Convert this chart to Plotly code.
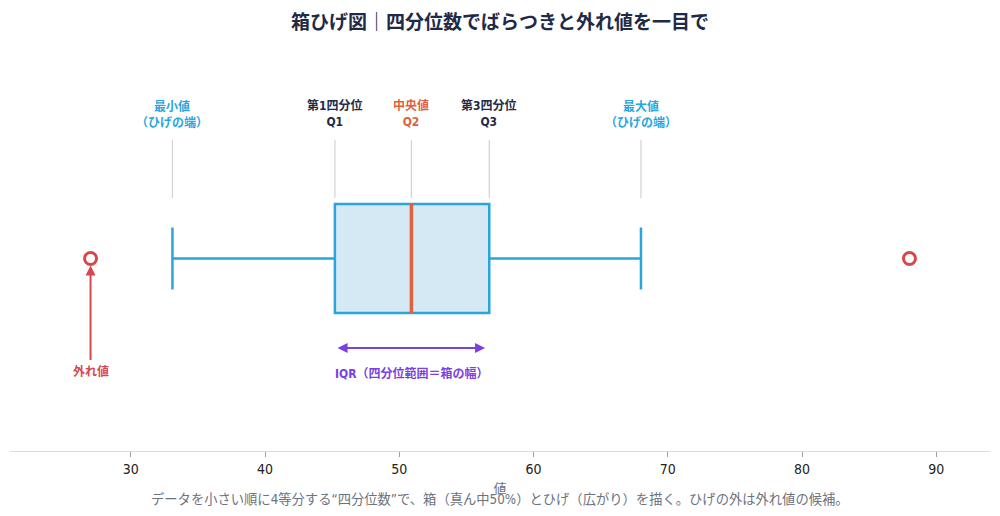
import plotly.graph_objects as go

# ---- data ----
stat_names = ["最小値", "Q1", "中央値", "Q3", "最大値"]
whisker_low = [33.1]
q1_vals = [45.2]
median_vals = [50.9]
q3_vals = [56.7]
whisker_high = [68.0]
outlier_vals = [27.0, 88.0]
tick_vals = [30, 40, 50, 60, 70, 80, 90]

BLUE = "#2aa6dc"
FILL = "#d5e9f5"
ORANGE = "#e0613a"
RED = "#d9474b"
PURPLE = "#7c3fe0"
NAVY = "#1f2b46"
GRAY = "#6b7280"
JP = "Noto Sans CJK JP, sans-serif"
NARROW = "DejaVu Sans Condensed, Liberation Sans Narrow, Noto Sans CJK JP, sans-serif"

fig = go.Figure()

fig.add_trace(go.Box(
    y=[0], q1=q1_vals, median=median_vals, q3=q3_vals,
    lowerfence=whisker_low, upperfence=whisker_high,
    orientation="h", width=1.09, whiskerwidth=0.57,
    fillcolor=FILL, line=dict(color=BLUE, width=2.5),
    hoverinfo="skip", showlegend=False, boxpoints=False,
))

# median line
fig.add_trace(go.Scatter(
    x=[median_vals[0], median_vals[0]], y=[-0.545, 0.545], mode="lines",
    line=dict(color=ORANGE, width=3.5), showlegend=False, hoverinfo="skip"))

# outliers
fig.add_trace(go.Scatter(
    x=outlier_vals, y=[0] * len(outlier_vals), mode="markers",
    marker=dict(symbol="circle-open", size=12, color=RED, line=dict(width=3)),
    showlegend=False, hoverinfo="skip"))

# guide lines
guide_x = [whisker_low[0], q1_vals[0], median_vals[0], q3_vals[0], whisker_high[0]]
for gx in guide_x:
    fig.add_shape(type="line", x0=gx, x1=gx, y0=0.605, y1=1.185, xref="x", yref="y",
                  line=dict(color="#cfd3d8", width=1.2))

labels = [
    ("最小値<br>（ひげの端）", BLUE),
    ("第1四分位<br>Q1", NAVY),
    ("中央値<br>Q2", ORANGE),
    ("第3四分位<br>Q3", NAVY),
    ("最大値<br>（ひげの端）", BLUE),
]
for gx, (txt, col) in zip(guide_x, labels):
    fig.add_annotation(x=gx, y=1.455, text=f"<b>{txt}</b>", showarrow=False,
                       font=dict(family=NARROW if "Q" in txt else JP, size=12, color=col),
                       xanchor="center", yanchor="middle")

# outlier arrow
fig.add_annotation(x=outlier_vals[0], y=-0.07, ax=outlier_vals[0], ay=-1.03,
                   xref="x", yref="y", axref="x", ayref="y", text="",
                   showarrow=True, arrowhead=2, arrowsize=1, arrowwidth=2, arrowcolor=RED)
fig.add_annotation(x=outlier_vals[0], y=-1.12, text="<b>外れ値</b>", showarrow=False,
                   font=dict(family=JP, size=12, color=RED))

# IQR arrow
fig.add_annotation(x=q1_vals[0] + 0.2, y=-0.895, ax=q3_vals[0] - 0.2, ay=-0.895,
                   xref="x", yref="y", axref="x", ayref="y", text="",
                   showarrow=True, arrowhead=2, arrowside="end+start", arrowsize=1,
                   arrowwidth=2, arrowcolor=PURPLE)
fig.add_annotation(x=(q1_vals[0] + q3_vals[0]) / 2, y=-1.145, text="<b>IQR（四分位範囲＝箱の幅）</b>",
                   showarrow=False, font=dict(family=NARROW, size=12, color=PURPLE))

# footnote
fig.add_annotation(xref="paper", yref="paper", x=0.5, y=-0.122,
                   text="データを小さい順に4等分する“四分位数”で、箱（真ん中50%）とひげ（広がり）を描く。ひげの外は外れ値の候補。",
                   showarrow=False, font=dict(family=NARROW, size=13.3, color=GRAY),
                   xanchor="center", yanchor="middle")

fig.update_layout(
    width=984, height=500,
    margin=dict(l=2, r=2, t=52, b=57),
    paper_bgcolor="white", plot_bgcolor="white",
    title=dict(text="<b>箱ひげ図｜四分位数でばらつきと外れ値を一目で</b>", x=0.5, xanchor="center",
               y=0.972, yanchor="middle", font=dict(family=JP, size=19, color=NAVY)),
    xaxis=dict(range=[21, 94], tickvals=tick_vals, showgrid=False, zeroline=False,
               showline=True, linecolor="#d7dbe0", linewidth=1,
               ticks="outside", ticklen=5, tickcolor="#9aa0a6",
               tickfont=dict(family=NARROW, size=14, color="#222222"),
               title=dict(text="値", font=dict(family=JP, size=13, color=GRAY), standoff=8)),
    yaxis=dict(range=[-1.925, 1.985], visible=False, fixedrange=True),
)

fig.write_html("out.html")
